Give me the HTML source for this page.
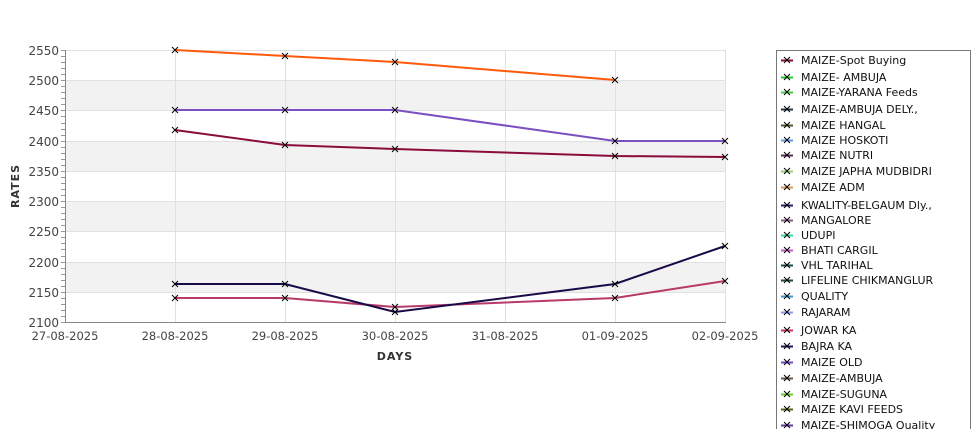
<!DOCTYPE html>
<html><head><meta charset="utf-8"><style>
html,body{margin:0;padding:0;background:#fff;width:975px;height:429px;overflow:hidden}
svg text{font-family:"DejaVu Sans","Liberation Sans",sans-serif}
</style></head><body>
<svg width="975" height="429" viewBox="0 0 975 429" xmlns="http://www.w3.org/2000/svg">
<g fill="#f2f2f2">
<rect x="65" y="80" width="660" height="30"/>
<rect x="65" y="141" width="660" height="30"/>
<rect x="65" y="201" width="660" height="30"/>
<rect x="65" y="262" width="660" height="30"/>
</g>
<g stroke="#e0e0e0" stroke-width="1">
<line x1="65" y1="50.5" x2="725" y2="50.5"/><line x1="65" y1="80.5" x2="725" y2="80.5"/><line x1="65" y1="110.5" x2="725" y2="110.5"/><line x1="65" y1="141.5" x2="725" y2="141.5"/><line x1="65" y1="171.5" x2="725" y2="171.5"/><line x1="65" y1="201.5" x2="725" y2="201.5"/><line x1="65" y1="231.5" x2="725" y2="231.5"/><line x1="65" y1="262.5" x2="725" y2="262.5"/><line x1="65" y1="292.5" x2="725" y2="292.5"/>
<line x1="175.5" y1="50" x2="175.5" y2="322"/><line x1="285.5" y1="50" x2="285.5" y2="322"/><line x1="395.5" y1="50" x2="395.5" y2="322"/><line x1="505.5" y1="50" x2="505.5" y2="322"/><line x1="615.5" y1="50" x2="615.5" y2="322"/><line x1="725.5" y1="50" x2="725.5" y2="322"/>
</g>
<g stroke="#888" stroke-width="1">
<line x1="65.5" y1="50" x2="65.5" y2="322"/><line x1="65" y1="322.5" x2="726" y2="322.5"/>
</g>
<g stroke="#999" stroke-width="1" id="ticks"></g>
<g font-size="12" fill="#444" text-anchor="end">
<text x="59" y="55">2550</text><text x="59" y="85">2500</text><text x="59" y="115">2450</text><text x="59" y="146">2400</text><text x="59" y="176">2350</text><text x="59" y="206">2300</text><text x="59" y="236">2250</text><text x="59" y="267">2200</text><text x="59" y="297">2150</text><text x="59" y="327">2100</text>
</g>
<g font-size="11.5" fill="#444" text-anchor="middle">
<text x="65" y="340">27-08-2025</text><text x="175" y="340">28-08-2025</text><text x="285" y="340">29-08-2025</text><text x="395" y="340">30-08-2025</text><text x="505" y="340">31-08-2025</text><text x="615" y="340">01-09-2025</text><text x="725" y="340">02-09-2025</text>
</g>
<text x="395" y="360" font-size="11" font-weight="bold" fill="#333" text-anchor="middle" letter-spacing="1">DAYS</text>
<text transform="translate(19,186) rotate(-90)" font-size="11" font-weight="bold" fill="#333" text-anchor="middle" letter-spacing="1">RATES</text>
<g fill="none" stroke-width="2">
<polyline stroke="#ff5a0a" points="175,50 285,56 395,62 615,80"/>
<polyline stroke="#7a4fc2" points="175,110 285,110 395,110 615,141 725,141"/>
<polyline stroke="#8a0c3c" points="175,130 285,145 395,149 615,156 725,157"/>
<polyline stroke="#b83a6a" points="175,298 285,298 395,307 615,298 725,281"/>
<polyline stroke="#1a0a48" points="175,284 285,284 395,312 615,284 725,246"/>
</g>
<g stroke="#000" stroke-width="1" id="marks"></g>
<rect x="776.5" y="50.5" width="194" height="390" fill="#fff" stroke="#777"/>
<g font-size="11" fill="#111" id="leg"></g>
</svg>
<script>
var ns="http://www.w3.org/2000/svg";
function el(p,t,a){var e=document.createElementNS(ns,t);for(var k in a)e.setAttribute(k,a[k]);document.getElementById(p).appendChild(e);return e;}
for(var v=2100;v<=2550;v+=10){var y=Math.round(322-(v-2100)*272/450)+0.5;el("ticks","line",{x1:61,y1:y,x2:65,y2:y});}
var pts=[[175,50],[285,56],[395,62],[615,80],[175,110],[285,110],[395,110],[615,141],[725,141],[175,130],[285,145],[395,149],[615,156],[725,157],[175,298],[285,298],[395,307],[615,298],[725,281],[175,284],[285,284],[395,312],[615,284],[725,246]];
pts.forEach(function(p){el("marks","path",{d:"M"+(p[0]-3)+" "+(p[1]-3)+"L"+(p[0]+3)+" "+(p[1]+3)+"M"+(p[0]+3)+" "+(p[1]-3)+"L"+(p[0]-3)+" "+(p[1]+3)});});
var L=[["MAIZE-Spot Buying","#8a0c3c"],["MAIZE- AMBUJA","#22cc22"],["MAIZE-YARANA Feeds","#44cc44"],["MAIZE-AMBUJA DELY.,","#1a3a4a"],["MAIZE HANGAL","#4a5a2a"],["MAIZE HOSKOTI","#6699ee"],["MAIZE NUTRI","#5a2a5a"],["MAIZE JAPHA MUDBIDRI","#99cc77"],["MAIZE ADM","#dd9955"],["KWALITY-BELGAUM Dly.,","#2a1a6a"],["MANGALORE","#8a5a8a"],["UDUPI","#33dd99"],["BHATI CARGIL","#cc55cc"],["VHL TARIHAL","#1a4a4a"],["LIFELINE CHIKMANGLUR","#1a4a3a"],["QUALITY","#3399cc"],["RAJARAM","#8899ee"],["JOWAR KA","#cc3366"],["BAJRA KA","#1a1a5a"],["MAIZE OLD","#7744cc"],["MAIZE-AMBUJA","#6a5a4a"],["MAIZE-SUGUNA","#66cc22"],["MAIZE KAVI FEEDS","#556611"],["MAIZE-SHIMOGA Quality","#6633aa"]];
var ys=[60,77,92,109,125,140,155,171,187,205,220,235,250,265,280,296,312,330,346,362,378,394,409,425];
L.forEach(function(it,i){var y=ys[i];
el("leg","line",{x1:781,y1:y+0.5,x2:793,y2:y+0.5,stroke:it[1],"stroke-width":2});
el("leg","path",{d:"M784 "+(y-3)+"L790 "+(y+3)+"M790 "+(y-3)+"L784 "+(y+3),stroke:"#000","stroke-width":1});
var t=el("leg","text",{x:801,y:y+4});t.textContent=it[0];});
</script>
</body></html>
